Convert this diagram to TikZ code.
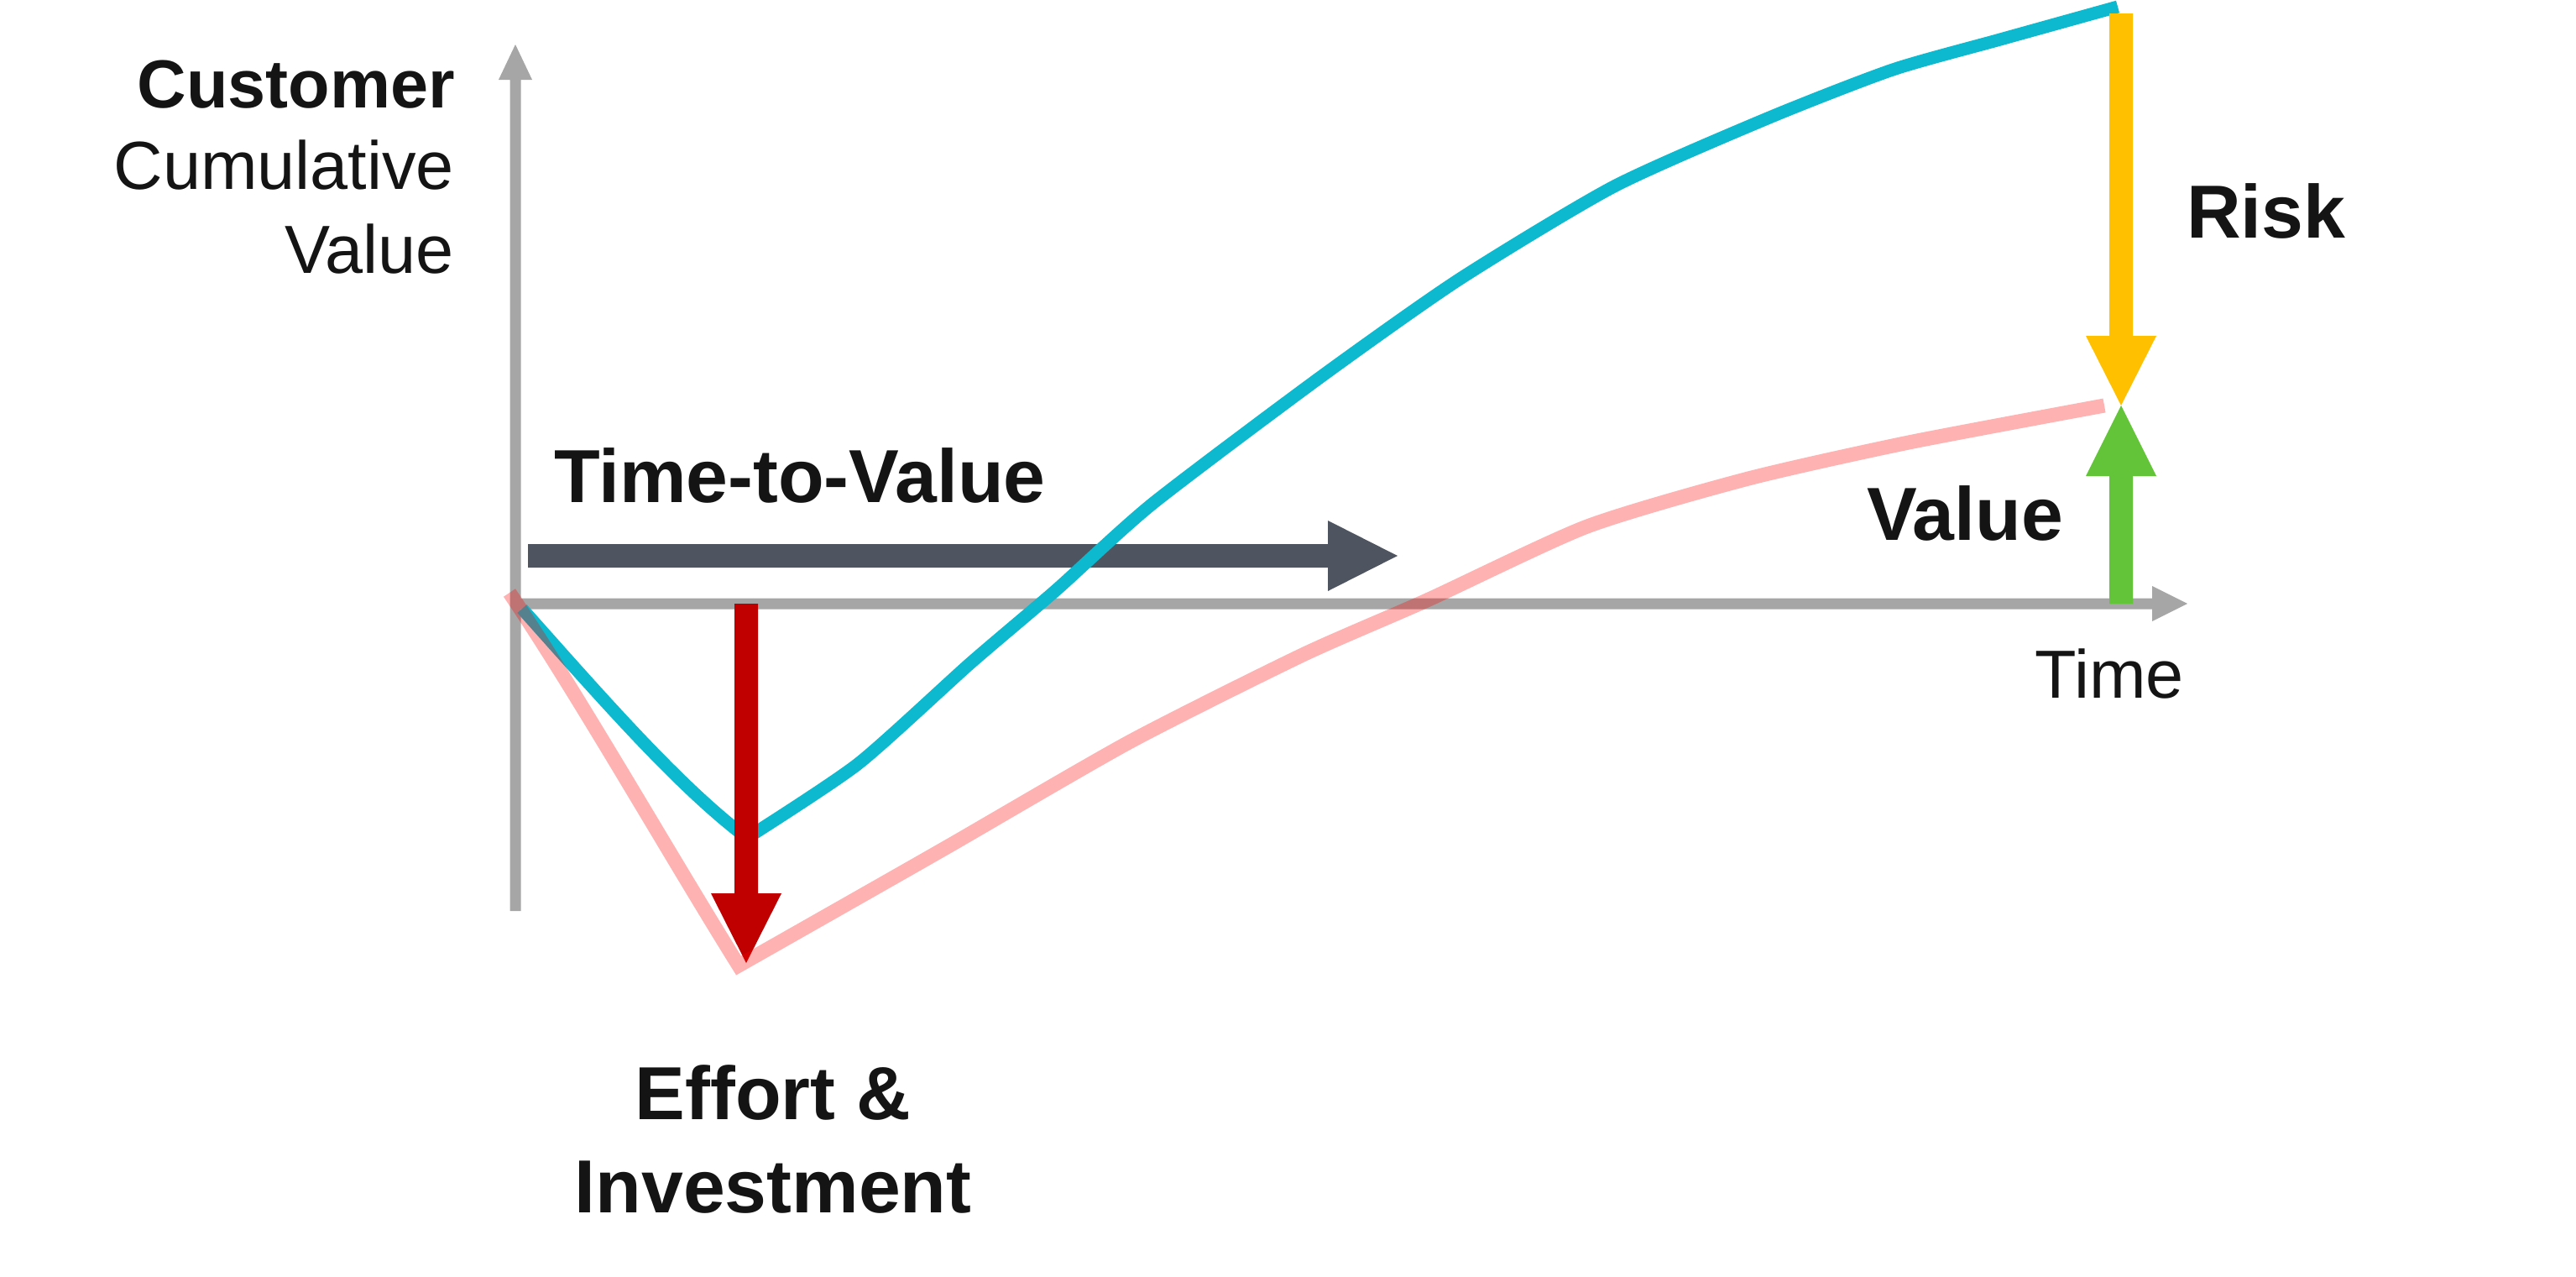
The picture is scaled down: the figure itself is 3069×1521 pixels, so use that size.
\documentclass[tikz,border=0pt]{standalone}
\usepackage{fontspec}
\setmainfont{Liberation Sans}
\usetikzlibrary{calc}
\definecolor{axisgray}{HTML}{A6A6A6}
\definecolor{ttvgray}{HTML}{4F5560}
\definecolor{tealc}{HTML}{0CB9CE}
\definecolor{riskyellow}{HTML}{FFC000}
\definecolor{valgreen}{HTML}{63C43A}
\definecolor{effortred}{HTML}{C00000}
\definecolor{inkc}{HTML}{141414}
\begin{document}
\begin{tikzpicture}[x=0.01cm,y=-0.01cm,
  lbl/.style={inner sep=0pt,outer sep=0pt,text=inkc,font=\fontsize{25.47pt}{30pt}\selectfont\bfseries},
  axlbl/.style={inner sep=0pt,outer sep=0pt,text=inkc,font=\fontsize{23.05pt}{28pt}\selectfont},
  axlblb/.style={inner sep=0pt,outer sep=0pt,text=inkc,font=\fontsize{23.05pt}{28pt}\selectfont\bfseries},
  tealline/.style={draw=tealc,line width=0.15cm,line cap=butt,line join=miter},
  pinkline/.style={draw=red,draw opacity=0.3,line width=0.17cm,line cap=butt,line join=miter}]
\path[use as bounding box] (0,0) rectangle (3069,1521);

% named points
\coordinate (yTail) at (614,1085);
\coordinate (yTip) at (614,53);
\coordinate (xTail) at (608,719);
\coordinate (xTip) at (2606,719);
\coordinate (ttvTail) at (629,662);
\coordinate (ttvTip) at (1665,662);
\coordinate (redTail) at (889,719);
\coordinate (redTip) at (889,1147);
\coordinate (riskTail) at (2527,16);
\coordinate (riskTip) at (2527,483);
\coordinate (valTail) at (2527,719);
\coordinate (valTip) at (2527,483);
\coordinate (tealStart) at (622,725);
\coordinate (tealMin) at (890,998);
\coordinate (pinkStart) at (607,706);
\coordinate (pinkMin) at (880,1150);

% axes
\fill[axisgray] ($(yTail)+(-6.5,0)$) -- ($(yTip)+(-6.5,42)$) -- ($(yTip)+(-20,42)$) -- (yTip)
  -- ($(yTip)+(20,42)$) -- ($(yTip)+(6.5,42)$) -- ($(yTail)+(6.5,0)$) -- cycle;
\fill[axisgray] ($(xTail)+(0,-6.5)$) -- ($(xTip)+(-42,-6.5)$) -- ($(xTip)+(-42,-21)$) -- (xTip)
  -- ($(xTip)+(-42,21)$) -- ($(xTip)+(-42,6.5)$) -- ($(xTail)+(0,6.5)$) -- cycle;

% time-to-value arrow
\fill[ttvgray] ($(ttvTail)+(0,-14)$) -- ($(ttvTip)+(-83,-14)$) -- ($(ttvTip)+(-83,-42)$) -- (ttvTip)
  -- ($(ttvTip)+(-83,42)$) -- ($(ttvTip)+(-83,14)$) -- ($(ttvTail)+(0,14)$) -- cycle;

% customer value curve (teal)
\draw[tealline] (tealStart) .. controls (720,835) and (810,938) .. (tealMin)
  -- plot[smooth,tension=0.4] coordinates {(890,998) (1022,910) (1156,790) (1258,703) (1373,600)
   (1572,450) (1738,333) (1923,222) (2108,140) (2255,83) (2383,47) (2523,8)};

% effort arrow (red)
\fill[effortred] ($(redTail)+(-14,0)$) -- ($(redTip)+(-14,-83)$) -- ($(redTip)+(-42,-83)$) -- (redTip)
  -- ($(redTip)+(42,-83)$) -- ($(redTip)+(14,-83)$) -- ($(redTail)+(14,0)$) -- cycle;

% realised value curve (pink)
\draw[pinkline] (pinkStart) .. controls (690,829) and (800,1022) .. (pinkMin)
  -- plot[smooth,tension=0.4] coordinates {(880,1150) (1035,1062) (1135,1005) (1347,883) (1552,780)
   (1700,715) (1891,627) (2083,570) (2274,527) (2507,483)};

% risk arrow (yellow)
\fill[riskyellow] ($(riskTail)+(-14,0)$) -- ($(riskTip)+(-14,-83)$) -- ($(riskTip)+(-42,-83)$) -- (riskTip)
  -- ($(riskTip)+(42,-83)$) -- ($(riskTip)+(14,-83)$) -- ($(riskTail)+(14,0)$) -- cycle;

% value arrow (green)
\fill[valgreen] ($(valTail)+(-14,0)$) -- ($(valTip)+(-14,84)$) -- ($(valTip)+(-42,84)$) -- (valTip)
  -- ($(valTip)+(42,84)$) -- ($(valTip)+(14,84)$) -- ($(valTail)+(14,0)$) -- cycle;

% labels
\node[axlblb,anchor=base east] (cust) at (542,128) {Customer};
\node[axlbl,anchor=base east] (cumu) at (541,225) {Cumulative};
\node[axlbl,anchor=base east] (cval) at (541,325) {Value};
\node[lbl,anchor=base west] (ttv) at (660,598) {Time-to-Value};
\node[lbl,anchor=base west] (risk) at (2605,283) {Risk};
\node[lbl,anchor=base east] (val) at (2458,643) {Value};
\node[axlbl,anchor=base east] (time) at (2602,831) {Time};
\node[lbl,anchor=base] (eff1) at (921,1333) {Effort \&};
\node[lbl,anchor=base] (eff2) at (921,1444) {Investment};
\end{tikzpicture}
\end{document}
